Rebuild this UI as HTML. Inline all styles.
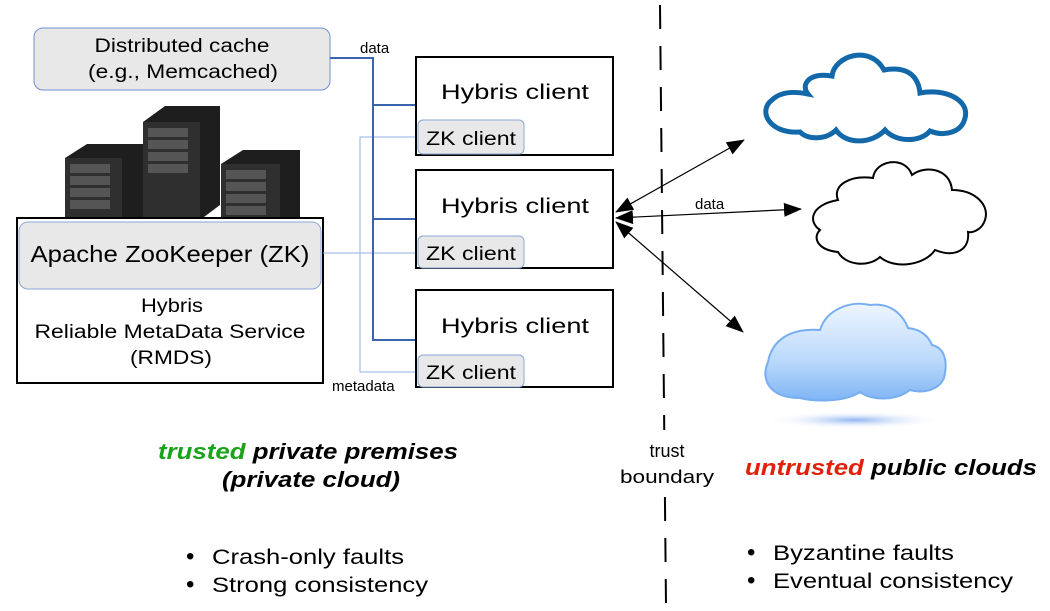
<!DOCTYPE html>
<html><head><meta charset="utf-8"><style>
html,body{margin:0;padding:0;background:#fff;}
svg{display:block;font-family:"Liberation Sans",Arial,sans-serif;}
</style></head><body>
<svg width="1050" height="611" viewBox="0 0 1050 611" xmlns="http://www.w3.org/2000/svg">
<defs>
<marker id="ah" markerWidth="18" markerHeight="14" refX="17" refY="7" orient="auto-start-reverse" markerUnits="userSpaceOnUse" viewBox="0 0 18 14">
<path d="M0,0 L18,7 L0,14 z" fill="#000"/></marker>
<linearGradient id="cg" x1="0" y1="0" x2="0" y2="1">
<stop offset="0" stop-color="#eef6ff"/><stop offset="0.6" stop-color="#b9d8fb"/><stop offset="1" stop-color="#7fb5f5"/></linearGradient>
<radialGradient id="sh" cx="0.5" cy="0.5" r="0.5"><stop offset="0" stop-color="#8fb4f0"/><stop offset="1" stop-color="#fff" stop-opacity="0"/></radialGradient>
</defs>

<!-- servers -->
<g>
<polygon points="143,122 165,106 220,106 220,205 200,220 143,220" fill="#1e1e1e"/>
<rect x="143" y="122" width="57" height="98" fill="#2f2f2f"/>
<rect x="148" y="128" width="40" height="9" fill="#555"/><rect x="148" y="140" width="40" height="9" fill="#555"/><rect x="148" y="152" width="40" height="9" fill="#555"/><rect x="148" y="164" width="40" height="9" fill="#555"/>
<polygon points="65,158 87,144 143,144 143,248 122,262 65,262" fill="#1e1e1e"/>
<rect x="65" y="158" width="57" height="104" fill="#2f2f2f"/>
<rect x="70" y="164" width="40" height="9" fill="#555"/><rect x="70" y="176" width="40" height="9" fill="#555"/><rect x="70" y="188" width="40" height="9" fill="#555"/><rect x="70" y="200" width="40" height="9" fill="#555"/>
<polygon points="221,164 243,150 300,150 300,242 280,256 221,256" fill="#1e1e1e"/>
<rect x="221" y="164" width="59" height="92" fill="#2f2f2f"/>
<rect x="226" y="170" width="40" height="9" fill="#555"/><rect x="226" y="182" width="40" height="9" fill="#555"/><rect x="226" y="194" width="40" height="9" fill="#555"/><rect x="226" y="206" width="40" height="9" fill="#555"/>
</g>

<!-- Distributed cache -->
<rect x="34" y="28" width="296" height="62" rx="9" fill="#e8e8e8" stroke="#6f8fcf" stroke-width="1"/>
<text x="182" y="52" font-size="19" text-anchor="middle" textLength="175" lengthAdjust="spacingAndGlyphs">Distributed cache</text>
<text x="183" y="78" font-size="19" text-anchor="middle" textLength="190" lengthAdjust="spacingAndGlyphs">(e.g., Memcached)</text>

<!-- ZK box -->
<rect x="17" y="218" width="306" height="165" fill="#fff" stroke="#000" stroke-width="2"/>
<rect x="19" y="222" width="302" height="67" rx="9" fill="#e8e8e8" stroke="#8aa6d8" stroke-width="1"/>
<text x="170" y="262" font-size="23" text-anchor="middle" textLength="279" lengthAdjust="spacingAndGlyphs">Apache ZooKeeper (ZK)</text>
<text x="172" y="312" font-size="19" text-anchor="middle" textLength="62" lengthAdjust="spacingAndGlyphs">Hybris</text>
<text x="170" y="338" font-size="19" text-anchor="middle" textLength="271" lengthAdjust="spacingAndGlyphs">Reliable MetaData Service</text>
<text x="171" y="364" font-size="19" text-anchor="middle" textLength="82" lengthAdjust="spacingAndGlyphs">(RMDS)</text>

<!-- metadata lines -->
<g stroke="#8fb0e0" stroke-width="1" fill="none">
<path d="M323,253 H418"/>
<path d="M418,137 H360 V372 H418"/>
</g>
<!-- data lines -->
<g stroke="#3a64b0" stroke-width="2" fill="none">
<path d="M330,58 H373 V340 H416"/>
<path d="M373,105 H416"/>
<path d="M373,219 H416"/>
</g>
<text x="360" y="53" font-size="15">data</text>
<text x="332" y="391" font-size="15">metadata</text>

<!-- Hybris clients -->
<g font-size="21">
<rect x="416" y="57" width="197" height="98" fill="#fff" stroke="#000" stroke-width="2"/>
<text x="441" y="99" textLength="148" lengthAdjust="spacingAndGlyphs">Hybris  client</text>
<rect x="418" y="120" width="106" height="34" rx="5" fill="#e8e8e8" stroke="#8aa6d8"/>
<text x="426" y="145" font-size="19" textLength="90" lengthAdjust="spacingAndGlyphs">ZK client</text>

<rect x="416" y="170" width="197" height="98" fill="#fff" stroke="#000" stroke-width="2"/>
<text x="441" y="213" textLength="148" lengthAdjust="spacingAndGlyphs">Hybris  client</text>
<rect x="418" y="236" width="106" height="32" rx="5" fill="#e8e8e8" stroke="#8aa6d8"/>
<text x="426" y="260" font-size="19" textLength="90" lengthAdjust="spacingAndGlyphs">ZK client</text>

<rect x="416" y="290" width="197" height="97" fill="#fff" stroke="#000" stroke-width="2"/>
<text x="441" y="333" textLength="148" lengthAdjust="spacingAndGlyphs">Hybris  client</text>
<rect x="418" y="355" width="106" height="32" rx="5" fill="#e8e8e8" stroke="#8aa6d8"/>
<text x="426" y="379" font-size="19" textLength="90" lengthAdjust="spacingAndGlyphs">ZK client</text>
</g>

<!-- dashed boundary -->
<line x1="660" y1="5" x2="666" y2="605" stroke="#000" stroke-width="2" stroke-dasharray="24,17"/>
<rect x="615" y="430" width="105" height="60" fill="#fff"/>
<text x="667" y="457" font-size="18" text-anchor="middle">trust</text>
<text x="667" y="483" font-size="18" text-anchor="middle" textLength="94" lengthAdjust="spacingAndGlyphs">boundary</text>

<!-- arrows -->
<g stroke="#000" stroke-width="1.2" fill="none">
<line x1="616" y1="212" x2="744" y2="140" marker-start="url(#ah)" marker-end="url(#ah)"/>
<line x1="616" y1="218" x2="801" y2="209" marker-start="url(#ah)" marker-end="url(#ah)"/>
<line x1="616" y1="222" x2="743" y2="332" marker-start="url(#ah)" marker-end="url(#ah)"/>
</g>
<text x="695" y="209" font-size="15">data</text>

<!-- clouds -->
<path d="M800,132 C768,134 758,110 772,100 C782,90 798,92 808,94 C800,84 810,72 832,76 C834,56 870,44 884,70 C905,66 918,74 920,93 C945,88 970,100 965,118 C962,132 945,137 930,131 C920,143 895,142 885,130 C872,144 846,145 836,130 C826,140 808,140 800,132 Z" fill="#fff" stroke="#1268a8" stroke-width="5"/>
<path d="M838,252 C818,250 812,238 820,230 C808,222 810,205 838,200 C832,185 850,175 873,178 C875,160 905,155 912,175 C925,165 950,168 952,190 C975,190 990,205 985,220 C982,230 972,233 968,232 C970,250 955,258 935,250 C925,265 895,270 880,257 C868,268 845,265 838,252 Z" fill="#fff" stroke="#000" stroke-width="2"/>
<ellipse cx="855" cy="420" rx="90" ry="9" fill="url(#sh)"/>
<path d="M800,398 C770,398 760,380 768,362 C772,340 790,328 820,330 C826,310 850,300 870,305 C895,302 905,320 908,328 C925,330 930,340 932,345 C945,348 948,362 944,378 C938,392 920,393 910,390 C895,402 870,400 860,392 C845,402 815,402 800,398 Z" fill="url(#cg)" stroke="#78aef0" stroke-width="2"/>

<!-- bottom texts -->
<text x="308" y="459" font-size="22" font-weight="bold" font-style="italic" text-anchor="middle" textLength="300" lengthAdjust="spacingAndGlyphs"><tspan fill="#1aa31a">trusted</tspan> private premises</text>
<text x="311" y="487" font-size="22" font-weight="bold" font-style="italic" text-anchor="middle" textLength="178" lengthAdjust="spacingAndGlyphs">(private cloud)</text>
<text x="745" y="475" font-size="22" font-weight="bold" font-style="italic" textLength="292" lengthAdjust="spacingAndGlyphs"><tspan fill="#e0200a">untrusted</tspan> public clouds</text>

<g font-size="21">
<text x="186" y="564" font-size="24">•</text><text x="212" y="564" textLength="192" lengthAdjust="spacingAndGlyphs">Crash-only faults</text>
<text x="186" y="592" font-size="24">•</text><text x="212" y="592" textLength="216" lengthAdjust="spacingAndGlyphs">Strong consistency</text>
<text x="747" y="560" font-size="24">•</text><text x="773" y="560" textLength="181" lengthAdjust="spacingAndGlyphs">Byzantine faults</text>
<text x="747" y="588" font-size="24">•</text><text x="773" y="588" textLength="240" lengthAdjust="spacingAndGlyphs">Eventual consistency</text>
</g>
</svg>
</body></html>
